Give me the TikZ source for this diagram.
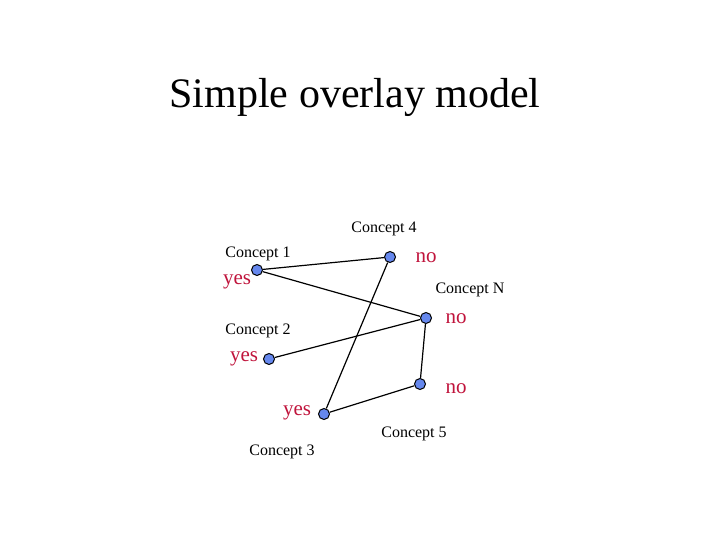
\documentclass[tikz,border=0pt]{standalone}
\usepackage{fontspec}
\setmainfont{Liberation Serif}
\definecolor{nodeblue}{HTML}{6688EE}
\definecolor{ansred}{HTML}{C0143C}
\begin{document}
\begin{tikzpicture}[x=1pt,y=-1pt,
  dot/.style={circle,draw=black,line width=1pt,fill=nodeblue,minimum size=11pt,inner sep=0pt},
  lab/.style={font=\fontsize{16}{18}\selectfont,inner sep=0pt},
  ans/.style={font=\fontsize{21}{24}\selectfont,text=ansred,inner sep=0pt},
  edge/.style={line width=1.2pt}]
\useasboundingbox (0,0) rectangle (720,540);
\node[font=\fontsize{42}{48}\selectfont,inner sep=0pt] (title) at (355,97) {Simple overlay model};
\node[dot] (c1) at (257,270) {};
\node[dot] (c4) at (390,257) {};
\node[dot] (cn) at (426,318) {};
\node[dot] (c2) at (269,359) {};
\node[dot] (c5) at (420,384) {};
\node[dot] (c3) at (324,414) {};
\draw[edge] (c1) -- (c4);
\draw[edge] (c1) -- (cn);
\draw[edge] (cn) -- (c2);
\draw[edge] (c4) -- (c3);
\draw[edge] (cn) -- (c5);
\draw[edge] (c5) -- (c3);
\node[lab] (l1) at (258,254) {Concept 1};
\node[lab] (l4) at (384,229) {Concept 4};
\node[lab] (ln) at (470,290) {Concept N};
\node[lab] (l2) at (258,331) {Concept 2};
\node[lab] (l5) at (414,434) {Concept 5};
\node[lab] (l3) at (282,452) {Concept 3};
\node[ans] (a1) at (237,282) {yes};
\node[ans] (a4) at (426,258) {no};
\node[ans] (an) at (456,319) {no};
\node[ans] (a2) at (244,359) {yes};
\node[ans] (a5) at (456,389) {no};
\node[ans] (a3) at (297,413) {yes};
\end{tikzpicture}
\end{document}
